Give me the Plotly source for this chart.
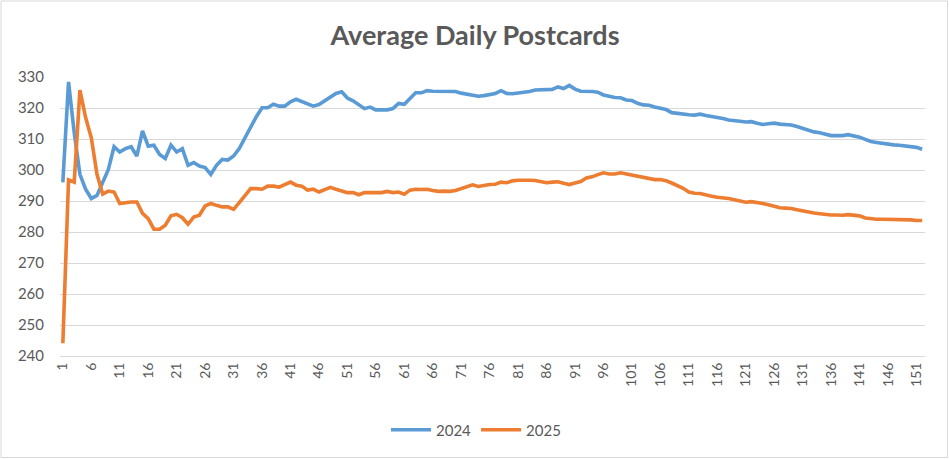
import plotly.graph_objects as go

days = list(range(1, 153))

series_2024 = [
    296.0, 328.4, 312.0, 298.6, 293.8, 290.8, 291.8, 296.0, 300.2, 307.5,
    305.8, 306.9, 307.5, 304.5, 312.6, 307.7, 308.0, 305.0, 303.7, 308.0,
    305.8, 306.9, 301.5, 302.4, 301.3, 300.8, 298.6, 301.5, 303.4, 303.2,
    304.5, 306.9, 310.4, 314.2, 317.2, 320.1, 320.1, 321.2, 320.6, 320.6,
    322.0, 322.8, 322.0, 321.3, 320.6, 321.1, 322.3, 323.7, 324.7, 325.2,
    323.2, 322.3, 320.9, 319.8, 320.3, 319.4, 319.4, 319.4, 319.8, 321.5,
    321.2, 323.0, 324.9, 324.9, 325.6, 325.4, 325.4, 325.4, 325.4, 325.3,
    324.8, 324.5, 324.3, 323.8, 324.0, 324.3, 324.7, 325.6, 324.7, 324.6,
    324.8, 325.1, 325.3, 325.8, 325.9, 326.1, 326.0, 326.8, 326.3, 327.3,
    326.1, 325.4, 325.4, 325.3, 325.1, 324.2, 323.8, 323.4, 323.3, 322.6,
    322.4, 321.5, 321.0, 320.9, 320.3, 320.0, 319.5, 318.5, 318.2, 318.0,
    317.8, 317.7, 318.0, 317.6, 317.3, 317.0, 316.6, 316.1, 316.0, 315.7,
    315.5, 315.6, 315.1, 314.7, 314.9, 315.1, 314.8, 314.6, 314.5, 314.0,
    313.4, 312.8, 312.3, 312.0, 311.5, 311.1, 311.1, 311.1, 311.4, 311.0,
    310.6, 309.9, 309.2, 308.9, 308.6, 308.3, 308.1, 308.0, 307.7, 307.6,
    307.3, 306.7,
]

series_2025 = [
    244.1, 296.8, 296.1, 325.8, 316.9, 310.4, 298.6, 292.2, 293.2, 292.9,
    289.2, 289.5, 289.7, 289.7, 286.0, 284.3, 280.9, 280.9, 282.2, 285.2,
    285.7, 284.6, 282.5, 284.8, 285.4, 288.4, 289.2, 288.6, 288.1, 288.1,
    287.3, 289.5, 291.6, 294.0, 294.0, 293.8, 294.8, 294.8, 294.5, 295.4,
    296.1, 295.1, 294.8, 293.5, 293.8, 292.9, 293.5, 294.4, 293.8, 293.1,
    292.7, 292.7, 292.0, 292.7, 292.7, 292.7, 292.7, 293.1, 292.7, 292.9,
    292.2, 293.5, 293.8, 293.7, 293.8, 293.4, 293.1, 293.2, 293.1, 293.4,
    294.0, 294.5, 295.2, 294.7, 295.1, 295.3, 295.4, 296.1, 295.9, 296.5,
    296.7, 296.8, 296.7, 296.6, 296.3, 295.9, 296.1, 296.2, 295.7, 295.3,
    295.8, 296.3, 297.4, 297.8, 298.5, 299.1, 298.7, 298.7, 299.1, 298.7,
    298.5, 298.1, 297.5, 297.1, 296.9, 296.9, 296.5, 295.8, 295.1, 294.1,
    292.9, 292.5, 292.4, 291.8, 291.5, 291.2, 291.1, 290.8, 290.4, 290.0,
    289.6, 289.8, 289.6, 289.2, 288.8, 288.3, 287.8, 287.7, 287.6, 287.2,
    286.8, 286.3, 286.1, 285.9, 285.6, 285.5, 285.5, 285.4, 285.6, 285.5,
    285.2, 284.5, 284.2, 284.1, 284.1, 284.1, 284.1, 284.1, 284.0, 283.9,
    283.7, 283.7,
]

x_tick_vals = list(range(1, 153, 5))
y_tick_vals = list(range(240, 331, 10))

TEXT = "#595959"
FONT = "Lato"

fig = go.Figure()
fig.add_trace(go.Scatter(x=days, y=series_2024, mode="lines", name="2024",
                         line=dict(color="#5B9BD5", width=3.6)))
fig.add_trace(go.Scatter(x=days, y=series_2025, mode="lines", name="2025",
                         line=dict(color="#ED7D31", width=3.6)))

L, R, T, B = 60, 24, 77, 103
W, H = 949, 459
pw, ph = W - L - R, H - T - B

fig.update_layout(
    width=W, height=H,
    margin=dict(l=L, r=R, t=T, b=B),
    paper_bgcolor="white", plot_bgcolor="white",
    font=dict(family=FONT, color=TEXT),
    title=dict(text="<b>Average Daily Postcards</b>", x=475 / W, xanchor="center",
               y=1 - 36 / H, yanchor="middle",
               font=dict(size=27, color=TEXT, family=FONT)),
    xaxis=dict(range=[0.5, 152.5], tickmode="array", tickvals=x_tick_vals,
               ticktext=[str(v) for v in x_tick_vals], tickangle=-90,
               showgrid=False, zeroline=False, showline=True,
               linecolor="#D9D9D9", linewidth=1,
               tickfont=dict(size=14, color=TEXT), ticks="", fixedrange=True),
    yaxis=dict(range=[240, 330], tickmode="array", tickvals=y_tick_vals,
               showgrid=True, gridcolor="#D9D9D9", gridwidth=1,
               zeroline=False, showline=False, ticks="",
               tickfont=dict(size=15, color=TEXT), ticklabelstandoff=15,
               fixedrange=True),
    legend=dict(orientation="h", x=(476 - L) / pw, xanchor="center",
                y=-(430 - (H - B)) / ph, yanchor="middle",
                font=dict(size=15, color=TEXT), itemwidth=40,
                bgcolor="rgba(0,0,0,0)"),
    showlegend=True,
)

# outer chart border
fig.add_shape(type="rect", xref="paper", yref="paper",
              x0=(1 - L) / pw, x1=(W - 1.5 - L) / pw,
              y0=-(H - 1.5 - (H - B)) / ph, y1=((H - B) - 1) / ph,
              line=dict(color="#D9D9D9", width=1), layer="below")

fig.write_html("out.html", config={"displayModeBar": False},
               post_script="document.body.style.margin='0';document.body.style.overflow='hidden';")
